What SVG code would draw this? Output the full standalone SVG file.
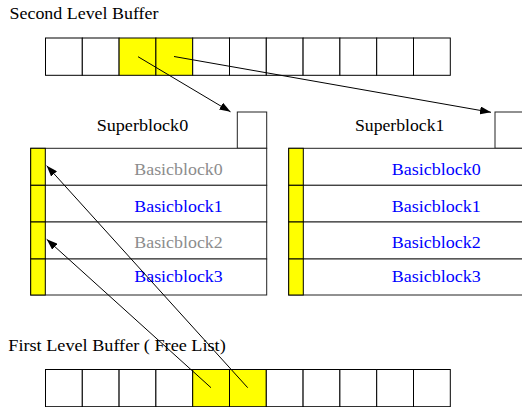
<svg xmlns="http://www.w3.org/2000/svg" width="522" height="407" viewBox="0 0 522 407">
  <style>
    text { font-family: 'Liberation Serif', 'DejaVu Serif', serif; font-size: 16px; fill: #000; }
    .grey { fill: #8c8c8c; }
    .blue { fill: #0000ff; }
    .cell { fill: #fff; stroke: #000; stroke-width: 1; }
    .hot { fill: #ffff00; stroke: #000; stroke-width: 1; }
    .row { fill: #fff; stroke: #222; stroke-width: 1; }
    .link { fill: none; stroke: #000; stroke-width: 1; }
  </style>
  <defs>
    <marker id="arrow" markerUnits="userSpaceOnUse" markerWidth="12" markerHeight="8" refX="11" refY="4" orient="auto">
      <path d="M0,0 L11,4 L0,8 Z" fill="#000"/>
    </marker>
  </defs>
  <rect width="522" height="407" fill="#fff"/>

  <!-- second level buffer -->
  <g id="second-level-buffer">
    <text x="9.5" y="18.5" font-family="Liberation Serif, serif" textLength="149" lengthAdjust="spacingAndGlyphs">Second Level Buffer</text>
    <rect class="cell" x="45.5" y="38" width="36.8" height="37.3"/>
    <rect class="cell" x="82.3" y="38" width="36.8" height="37.3"/>
    <rect class="hot" x="119.1" y="38" width="36.8" height="37.3"/>
    <rect class="hot" x="155.9" y="38" width="36.8" height="37.3"/>
    <rect class="cell" x="192.7" y="38" width="36.8" height="37.3"/>
    <rect class="cell" x="229.5" y="38" width="36.8" height="37.3"/>
    <rect class="cell" x="266.3" y="38" width="36.8" height="37.3"/>
    <rect class="cell" x="303.1" y="38" width="36.8" height="37.3"/>
    <rect class="cell" x="339.9" y="38" width="36.8" height="37.3"/>
    <rect class="cell" x="376.7" y="38" width="36.8" height="37.3"/>
    <rect class="cell" x="413.5" y="38" width="36.8" height="37.3"/>
  </g>

  <!-- superblock 0 -->
  <g id="superblock0">
    <text x="96.7" y="130.7" textLength="91.5" lengthAdjust="spacingAndGlyphs">Superblock0</text>
    <rect class="row" x="237.3" y="112" width="29.4" height="36.3"/>
    <rect class="row" x="30.7" y="148.3" width="236" height="37"/>
    <rect class="row" x="30.7" y="185.3" width="236" height="36.7"/>
    <rect class="row" x="30.7" y="222" width="236" height="37"/>
    <rect class="row" x="30.7" y="259" width="236" height="36"/>
    <rect class="hot" x="30.7" y="148.3" width="14.6" height="37"/>
    <rect class="hot" x="30.7" y="185.3" width="14.6" height="36.7"/>
    <rect class="hot" x="30.7" y="222" width="14.6" height="37"/>
    <rect class="hot" x="30.7" y="259" width="14.6" height="36"/>
    <text class="grey" x="134.3" y="175" textLength="88.4" lengthAdjust="spacingAndGlyphs">Basicblock0</text>
    <text class="blue" x="134.3" y="211.5" textLength="88.4" lengthAdjust="spacingAndGlyphs">Basicblock1</text>
    <text class="grey" x="134.3" y="248" textLength="88.4" lengthAdjust="spacingAndGlyphs">Basicblock2</text>
    <text class="blue" x="134.3" y="281.5" textLength="88.4" lengthAdjust="spacingAndGlyphs">Basicblock3</text>
  </g>

  <!-- superblock 1 -->
  <g id="superblock1">
    <text x="355" y="130.7" textLength="89.3" lengthAdjust="spacingAndGlyphs">Superblock1</text>
    <rect class="row" x="495" y="112" width="40" height="36.3"/>
    <rect class="row" x="288.7" y="148.3" width="250" height="37"/>
    <rect class="row" x="288.7" y="185.3" width="250" height="36.7"/>
    <rect class="row" x="288.7" y="222" width="250" height="37"/>
    <rect class="row" x="288.7" y="259" width="250" height="36"/>
    <rect class="hot" x="288.7" y="148.3" width="14.6" height="37"/>
    <rect class="hot" x="288.7" y="185.3" width="14.6" height="36.7"/>
    <rect class="hot" x="288.7" y="222" width="14.6" height="37"/>
    <rect class="hot" x="288.7" y="259" width="14.6" height="36"/>
    <text class="blue" x="391.7" y="175" textLength="89" lengthAdjust="spacingAndGlyphs">Basicblock0</text>
    <text class="blue" x="391.7" y="211.5" textLength="89" lengthAdjust="spacingAndGlyphs">Basicblock1</text>
    <text class="blue" x="391.7" y="248" textLength="89" lengthAdjust="spacingAndGlyphs">Basicblock2</text>
    <text class="blue" x="391.7" y="281.5" textLength="89" lengthAdjust="spacingAndGlyphs">Basicblock3</text>
  </g>

  <!-- first level buffer (free list) -->
  <g id="first-level-buffer">
    <text x="8.3" y="351" textLength="217.4" lengthAdjust="spacingAndGlyphs">First Level Buffer ( Free List)</text>
    <rect class="cell" x="45.5" y="369.5" width="36.8" height="37.2"/>
    <rect class="cell" x="82.3" y="369.5" width="36.8" height="37.2"/>
    <rect class="cell" x="119.1" y="369.5" width="36.8" height="37.2"/>
    <rect class="cell" x="155.9" y="369.5" width="36.8" height="37.2"/>
    <rect class="hot" x="192.7" y="369.5" width="36.8" height="37.2"/>
    <rect class="hot" x="229.5" y="369.5" width="36.8" height="37.2"/>
    <rect class="cell" x="266.3" y="369.5" width="36.8" height="37.2"/>
    <rect class="cell" x="303.1" y="369.5" width="36.8" height="37.2"/>
    <rect class="cell" x="339.9" y="369.5" width="36.8" height="37.2"/>
    <rect class="cell" x="376.7" y="369.5" width="36.8" height="37.2"/>
    <rect class="cell" x="413.5" y="369.5" width="36.8" height="37.2"/>
  </g>

  <!-- pointers -->
  <g id="connectors">
    <line class="link" x1="138" y1="56.7" x2="230.5" y2="111.8" marker-end="url(#arrow)"/>
    <line class="link" x1="174" y1="56.5" x2="491" y2="112.3" marker-end="url(#arrow)"/>
    <line class="link" x1="211" y1="387.7" x2="46.7" y2="239.3" marker-end="url(#arrow)"/>
    <line class="link" x1="247.7" y1="387.7" x2="46.7" y2="165.7" marker-end="url(#arrow)"/>
  </g>
</svg>
